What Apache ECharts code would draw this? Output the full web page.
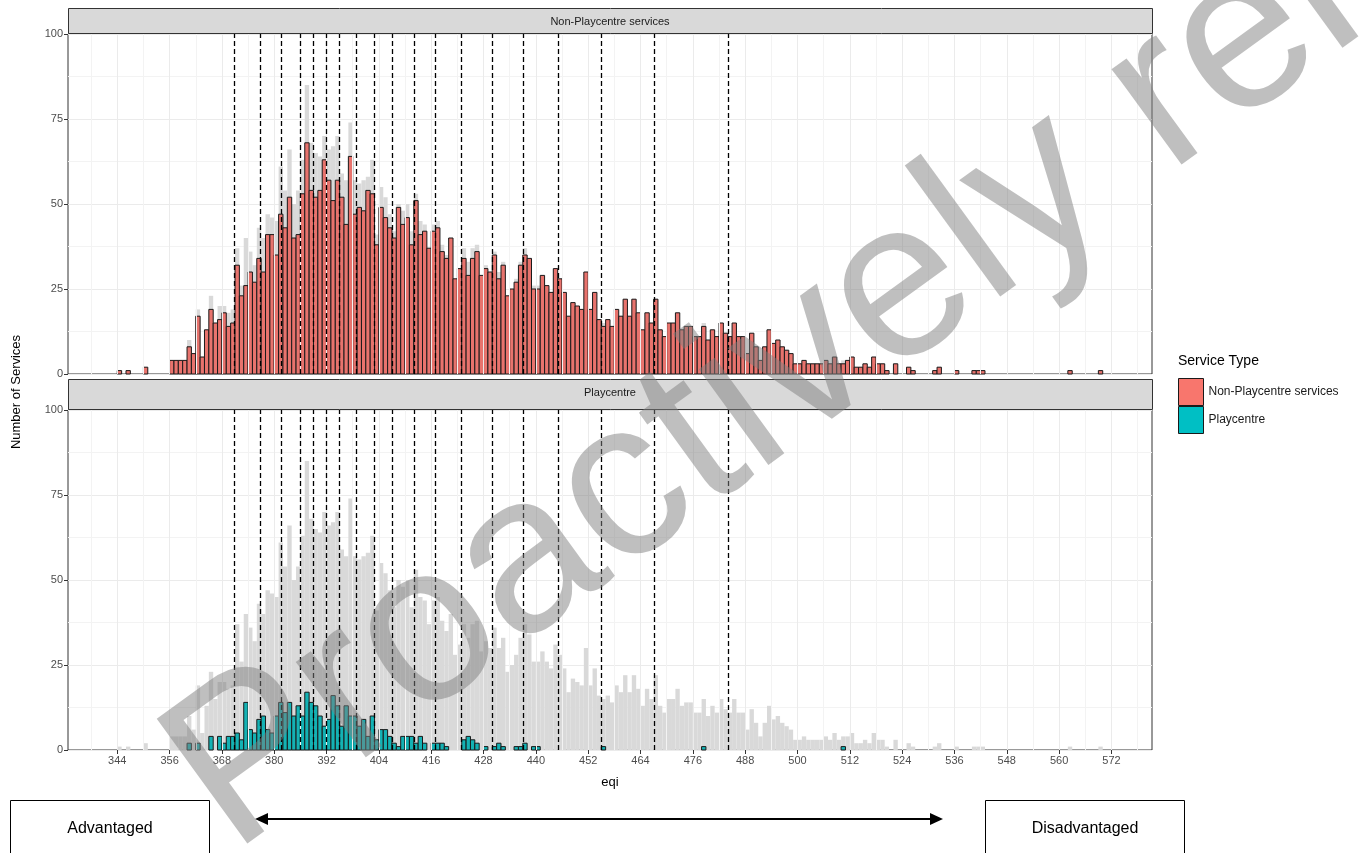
<!DOCTYPE html>
<html><head><meta charset="utf-8">
<script src="https://cdn.jsdelivr.net/npm/echarts@6/dist/echarts.min.js"></script>
<style>html,body{margin:0;padding:0;background:#fff}#c{width:1369px;height:853px}</style>
</head><body><div id="c"></div>
<script>
// ---- data ----
const firstBin = 344;      // left edge of first histogram bin (eqi)
const binWidth = 1;
const nonPlaycentre = [
 1,0,1,0,0,0,2,0,0,0,0,0,
 4,4,4,4,8,6,17,5,13,19,
 15,16,18,14,15,32,23,26,30,27,
 34,30,41,41,35,47,43,52,40,41,
 53,68,54,52,54,63,57,51,57,52,
 44,64,47,49,48,54,53,38,49,46,
 43,40,49,44,46,38,51,41,42,37,
 42,43,36,34,40,28,31,34,29,34,
 36,29,31,30,35,28,32,23,25,27,
 32,35,34,25,25,29,26,24,31,28,
 24,17,21,20,19,30,19,24,16,14,
 16,14,19,17,22,17,22,18,13,18,
 15,22,13,11,15,15,18,13,14,14,
 11,11,14,10,13,11,15,12,11,15,
 11,11,6,12,8,4,8,13,9,10,
 8,7,6,3,3,4,3,3,3,3,
 4,3,5,3,3,4,5,2,2,3,
 2,5,3,3,1,0,3,0,0,2,
 1,0,0,0,0,1,2,0,0,0,
 1,0,0,0,1,1,1,0,0,0,
 0,0,0,0,0,0,0,0,0,0,
 0,0,0,0,0,0,1,0,0,0,
 0,0,0,1
];
const playcentre = [
 0,0,0,0,0,0,0,0,0,0,0,0,
 0,0,0,0,2,0,2,0,0,4,
 0,4,2,4,4,5,3,14,6,5,
 9,10,6,5,10,14,11,14,10,13,
 10,17,14,13,10,7,9,16,13,7,
 13,10,10,7,9,4,10,3,6,6,
 4,2,1,4,4,4,2,4,2,0,
 2,2,2,1,0,0,0,3,4,3,
 2,0,1,0,1,2,1,0,0,1,
 1,2,0,1,1,0,0,0,0,0,
 0,0,0,0,0,0,0,0,0,1,
 0,0,0,0,0,0,0,0,0,0,
 0,0,0,0,0,0,0,0,0,0,
 0,0,1,0,0,0,0,0,0,0,
 0,0,0,0,0,0,0,0,0,0,
 0,0,0,0,0,0,0,0,0,0,
 0,0,0,0,1,0,0,0,0,0,
 0,0,0,0,0,0,0,0,0,0,
 0,0,0,0,0,0,0,0,0,0,
 0,0,0,0,0,0,0,0,0,0,
 0,0,0,0,0,0,0,0,0,0,
 0,0,0,0,0,0,0,0,0,0,
 0,0,0,0
];
const quantileLines = [370.8,376.75,381.7,385.9,388.9,392.0,395.0,398.9,402.9,407.0,412.1,417.0,423.0,430.1,437.2,445.1,455.1,467.1,484.2];
const xTicks = [344,356,368,380,392,404,416,428,440,452,464,476,488,500,512,524,536,548,560,572];
const xMinorGrid = [338,350,362,374,386,398,410,422,434,446,458,470,482,494,506,518,530,542,554,566,578];
const yTicks = [0,25,50,75,100];
const panelNames = ['Non-Playcentre services','Playcentre'];

// ---- build ----
const FONT = "'Liberation Sans', Arial, sans-serif";
const binStarts = nonPlaycentre.map((_, i) => firstBin + i * binWidth);
const allServices = nonPlaycentre.map((v, i) => v + playcentre[i]);
const toData = arr => arr.map((v, i) => [binStarts[i], v]);

function rectItem(fill, stroke, lw) {
  return function (params, api) {
    const x = api.value(0), v = api.value(1);
    if (!v) return null;
    const p0 = api.coord([x, v]);
    const p1 = api.coord([x + binWidth, 0]);
    return {type: 'rect',
      shape: {x: p0[0], y: p0[1], width: p1[0] - p0[0], height: p1[1] - p0[1]},
      style: {fill: fill, stroke: stroke, lineWidth: lw}};
  };
}

const X_MIN = 332.7, X_MAX = 581.3;
const gridTop = [34, 410];
const grids = gridTop.map(t => ({left: 68, top: t, width: 1084, height: 340, show: true,
  borderColor: '#333333', borderWidth: 1, backgroundColor: '#ffffff', containLabel: false}));

const xAxes = [0, 1].map(g => ({
  gridIndex: g, type: 'value', min: X_MIN, max: X_MAX,
  axisLine: {show: false}, splitLine: {show: false},
  axisTick: g === 1 ? {show: true, customValues: xTicks, length: 4, lineStyle: {color: '#333333'}} : {show: false},
  axisLabel: g === 1 ? {show: true, customValues: xTicks, color: '#4D4D4D', fontSize: 11, fontFamily: FONT, margin: 5} : {show: false},
  name: g === 1 ? 'eqi' : '', nameLocation: 'middle', nameGap: 26,
  nameTextStyle: {color: '#000', fontSize: 13, fontFamily: FONT}
}));
const yAxes = [0, 1].map(g => ({
  gridIndex: g, type: 'value', min: 0, max: 100, interval: 25,
  axisLine: {show: false},
  axisTick: {show: true, length: 4, lineStyle: {color: '#333333'}},
  axisLabel: {color: '#4D4D4D', fontSize: 11, fontFamily: FONT, margin: 5},
  splitLine: {show: true, lineStyle: {color: '#EBEBEB', width: 1}},
  minorTick: {show: false, splitNumber: 2},
  minorSplitLine: {show: true, lineStyle: {color: '#F3F3F3', width: 1}}
}));

const series = [];
[0, 1].forEach(g => {
  series.push({type: 'line', data: [], xAxisIndex: g, yAxisIndex: g, z: 1, silent: true,
    markLine: {silent: true, symbol: ['none', 'none'], label: {show: false}, animation: false,
      lineStyle: {color: '#F3F3F3', width: 1, type: 'solid'},
      data: xMinorGrid.map(v => ({xAxis: v}))}});
  series.push({type: 'line', data: [], xAxisIndex: g, yAxisIndex: g, z: 1, silent: true,
    markLine: {silent: true, symbol: ['none', 'none'], label: {show: false}, animation: false,
      lineStyle: {color: '#EBEBEB', width: 1, type: 'solid'},
      data: xTicks.map(v => ({xAxis: v}))}});
  series.push({type: 'custom', name: 'All services', xAxisIndex: g, yAxisIndex: g, z: 2,
    data: toData(allServices), renderItem: rectItem('#D9D9D9', null, 0), silent: true});
});
series.push({type: 'custom', name: panelNames[0], xAxisIndex: 0, yAxisIndex: 0, z: 3,
  itemStyle: {color: '#F8766D', borderColor: '#000', borderWidth: 1},
  data: toData(nonPlaycentre), renderItem: rectItem('#E8736D', '#1a1a1a', 1)});
series.push({type: 'custom', name: panelNames[1], xAxisIndex: 1, yAxisIndex: 1, z: 3,
  itemStyle: {color: '#00BFC4', borderColor: '#000', borderWidth: 1},
  data: toData(playcentre), renderItem: rectItem('#14B2B4', '#1a1a1a', 1)});
[0, 1].forEach(g => {
  series.push({type: 'line', data: [], xAxisIndex: g, yAxisIndex: g, z: 5, silent: true,
    markLine: {silent: true, symbol: ['none', 'none'], label: {show: false}, animation: false,
      lineStyle: {color: '#000', width: 1.3, type: [5, 3]},
      data: quantileLines.map(v => ({xAxis: v}))}});
});

const graphics = [
  {type: 'rect', shape: {x: 68.5, y: 8.5, width: 1084, height: 25}, style: {fill: '#D9D9D9', stroke: '#333333', lineWidth: 1}, z: 10},
  {type: 'text', x: 610, y: 22, style: {text: panelNames[0], fill: '#1A1A1A', font: '11px ' + FONT, textAlign: 'center', textVerticalAlign: 'middle'}, z: 11},
  {type: 'rect', shape: {x: 68.5, y: 379.5, width: 1084, height: 30}, style: {fill: '#D9D9D9', stroke: '#333333', lineWidth: 1}, z: 10},
  {type: 'text', x: 610, y: 393, style: {text: panelNames[1], fill: '#1A1A1A', font: '11px ' + FONT, textAlign: 'center', textVerticalAlign: 'middle'}, z: 11},
  {type: 'text', x: 16, y: 392, rotation: Math.PI / 2, style: {text: 'Number of Services', fill: '#000', font: '13px ' + FONT, textAlign: 'center', textVerticalAlign: 'middle'}},
  {type: 'text', left: 1178, top: 354, style: {text: 'Service Type', fill: '#000', font: '14px ' + FONT}},
  {type: 'rect', shape: {x: 10.5, y: 800.5, width: 199, height: 60}, style: {fill: '#fff', stroke: '#000', lineWidth: 1}},
  {type: 'text', x: 110, y: 829, style: {text: 'Advantaged', fill: '#000', font: '16px ' + FONT, textAlign: 'center', textVerticalAlign: 'middle'}},
  {type: 'rect', shape: {x: 985.5, y: 800.5, width: 199, height: 60}, style: {fill: '#fff', stroke: '#000', lineWidth: 1}},
  {type: 'text', x: 1085, y: 829, style: {text: 'Disadvantaged', fill: '#000', font: '16px ' + FONT, textAlign: 'center', textVerticalAlign: 'middle'}},
  {type: 'line', shape: {x1: 262, y1: 819, x2: 936, y2: 819}, style: {stroke: '#000', lineWidth: 2}},
  {type: 'polygon', shape: {points: [[255, 819], [268, 813], [268, 825]]}, style: {fill: '#000'}},
  {type: 'polygon', shape: {points: [[943, 819], [930, 813], [930, 825]]}, style: {fill: '#000'}},
  {type: 'text', x: 262, y: 895, rotation: 36 * Math.PI / 180, z: 100, silent: true,
    style: {text: 'Proactively released', fill: 'rgba(128,128,128,0.5)', font: '224px ' + FONT, textAlign: 'left', textVerticalAlign: 'bottom'}}
];

const chart = echarts.init(document.getElementById('c'), null, {renderer: 'canvas'});
chart.setOption({
  animation: false,
  backgroundColor: '#ffffff',
  grid: grids,
  xAxis: xAxes,
  yAxis: yAxes,
  legend: {orient: 'vertical', left: 1173, top: 373, itemWidth: 25, itemHeight: 27, itemGap: 0, icon: 'rect',
    selectedMode: false, padding: 5,
    textStyle: {color: '#1A1A1A', fontSize: 12, fontFamily: FONT},
    data: [{name: panelNames[0], itemStyle: {color: '#F8766D', borderColor: '#1a1a1a', borderWidth: 1}},
           {name: panelNames[1], itemStyle: {color: '#00BFC4', borderColor: '#1a1a1a', borderWidth: 1}}]},
  series: series,
  graphic: graphics
});
</script></body></html>
